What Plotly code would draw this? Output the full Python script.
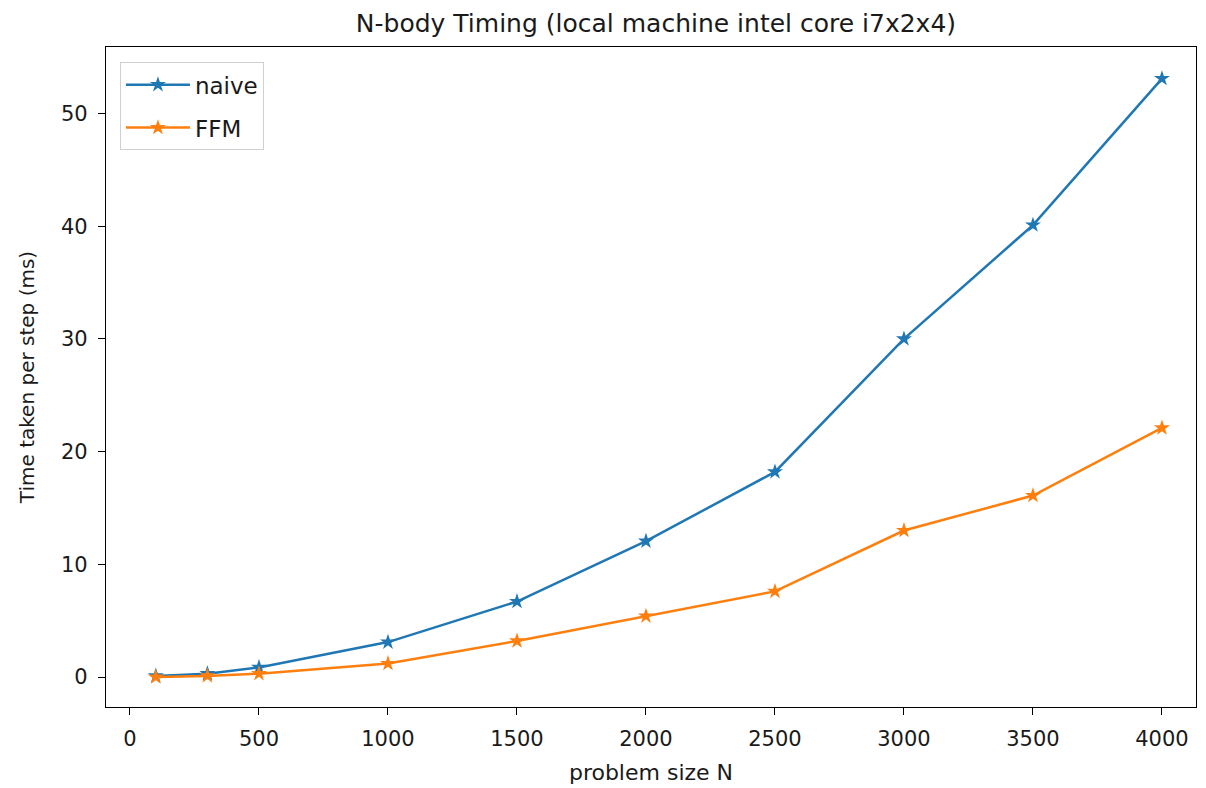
import plotly.graph_objects as go

N = [100, 300, 500, 1000, 1500, 2000, 2500, 3000, 3500, 4000]
naive_ms = [0.1, 0.3, 0.85, 3.1, 6.7, 12.05, 18.2, 30.0, 40.1, 53.1]
ffm_ms = [0.0, 0.1, 0.3, 1.2, 3.2, 5.4, 7.6, 13.0, 16.1, 22.1]

x_ticks = [0, 500, 1000, 1500, 2000, 2500, 3000, 3500, 4000]
y_ticks = [0, 10, 20, 30, 40, 50]

BLUE = "#1f77b4"
ORANGE = "#ff7f0e"
FONT = "DejaVu Sans"
TXT = "#1a1a1a"

fig = go.Figure()
fig.add_trace(go.Scatter(x=N, y=naive_ms, name="naive", mode="lines+markers", legendgroup="a",
                         line=dict(color=BLUE, width=2.5),
                         marker=dict(symbol="star", size=12, color=BLUE)))
fig.add_trace(go.Scatter(x=N, y=ffm_ms, name="FFM", mode="lines+markers", legendgroup="b",
                         line=dict(color=ORANGE, width=2.5),
                         marker=dict(symbol="star", size=12, color=ORANGE)))

axis_common = dict(showgrid=False, zeroline=False, showline=True, linecolor="black",
                   linewidth=1.3, mirror=True, ticks="outside", ticklen=7,
                   tickcolor="black", ticklabelstandoff=6,
                   tickfont=dict(family=FONT, size=21, color=TXT))

fig.update_layout(
    width=1206, height=788,
    paper_bgcolor="white", plot_bgcolor="white",
    margin=dict(l=98, r=18, t=39, b=89),
    title=dict(text="N-body Timing (local machine intel core i7x2x4)",
               x=0.5373, xanchor="center", y=1 - 15 / 788, yanchor="middle",
               font=dict(family=FONT, size=25, color=TXT)),
    xaxis=dict(range=[-93, 4132], tickvals=x_ticks,
               title=dict(text="problem size N", font=dict(family=FONT, size=22, color=TXT), standoff=14),
               **axis_common),
    yaxis=dict(range=[-2.66, 55.9], tickvals=y_ticks,
               title=dict(text="Time taken per step (ms)", font=dict(family=FONT, size=20, color=TXT), standoff=20),
               **axis_common),
    legend=dict(x=0.0128, y=0.977, xanchor="left", yanchor="top",
                traceorder="grouped", tracegroupgap=10, itemwidth=64,
                bgcolor="rgba(255,255,255,0.8)", bordercolor="#d0d0d0", borderwidth=1,
                font=dict(family=FONT, size=23, color=TXT)),
)

fig.write_html("out.html")
